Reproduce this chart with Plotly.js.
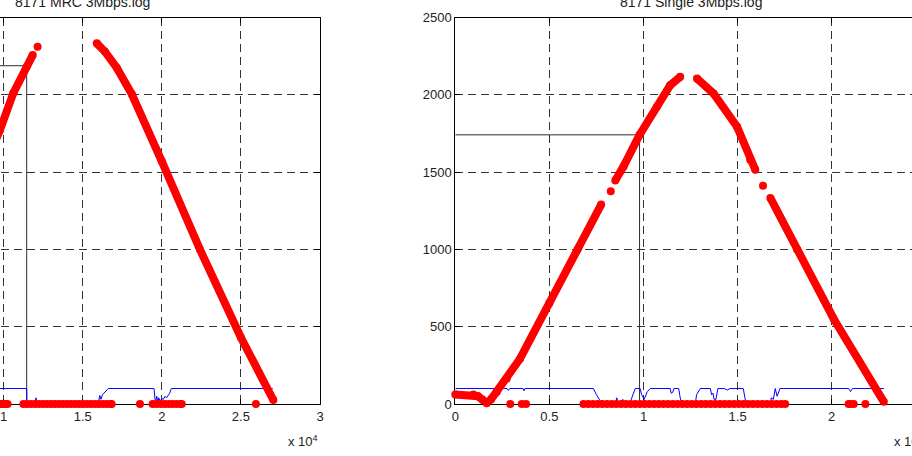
<!DOCTYPE html>
<html><head><meta charset="utf-8">
<script src="https://cdn.plot.ly/plotly-3.0.1.min.js"></script>
<style>
html,body{margin:0;padding:0;overflow:hidden;background:#fff;width:912px;height:456px}
#chart{position:absolute;left:-200px;top:0;width:1150px;height:456px}
</style>
</head><body><div id="chart"></div>
<script>
// ---------- tick labels ----------
const mrcXTickVals = [0, 5000, 10000, 15000, 20000, 25000, 30000];
const mrcXTickText = ['0', '0.5', '1', '1.5', '2', '2.5', '3'];
const singleXTickVals = [0, 5000, 10000, 15000, 20000, 25000];
const singleXTickText = ['0', '0.5', '1', '1.5', '2', '2.5'];
const yTickVals = [0, 500, 1000, 1500, 2000, 2500];
const yTickText = ['0', '500', '1000', '1500', '2000', '2500'];
const titles = ['8171 MRC 3Mbps.log', '8171 Single 3Mbps.log'];

// ---------- left panel: 8171 MRC 3Mbps.log ----------
const mrcRiseX = [9000, 9770, 10610, 11460, 11840];
const mrcRiseY = [1585, 1772, 2010, 2182, 2257];
const mrcFallX = [15890, 16400, 17150, 18100, 20000, 22410, 25000, 27050];
const mrcFallY = [2333, 2280, 2175, 2005, 1570, 1000, 430, 26];
const mrcDotX = [12150, 9770, 9870, 9990, 10120, 10250,
  11250, 11500, 11750, 12000, 12250, 12500, 12750, 13000, 13250, 13500, 13750, 14000,
  14250, 14500, 14750, 15000, 15250, 15500, 15750, 16000, 16250, 16500, 16750, 16830,
  18620, 19420, 19670, 19920, 20170, 20420, 20670, 20920, 21170, 21260, 25950];
const mrcDotY = [2311, 0, 0, 0, 0, 0,
  0, 0, 0, 0, 0, 0, 0, 0, 0, 0, 0, 0,
  0, 0, 0, 0, 0, 0, 0, 0, 0, 0, 0, 0,
  0, 0, 0, 0, 0, 0, 0, 0, 0, 0, 0];
const mrcBlueX = [9000, 11460, 11470, 11980, 12050, 12110, 15980, 16020, 16080, 16150, 16250, 16620,
  19510, 19600, 19680, 19750, 19800, 19900, 20000, 20100, 20200, 20300, 20500, 20600, 21150, 27010];
const mrcBlueY = [100, 100, 0, 0, 40, 0, 0, 40, 55, 30, 60, 100,
  100, 0, 50, 10, 40, 20, 35, 30, 50, 40, 70, 100, 100, 100];
const mrcMarkX = [0, 11460, 11460];
const mrcMarkY = [2188, 2188, 0];

// ---------- right panel: 8171 Single 3Mbps.log ----------
const singleRiseAX = [0, 960, 1200, 1450, 1670, 1900, 2200, 2730, 3440, 5000, 6500, 7750];
const singleRiseAY = [61, 61, 50, 28, 5, 30, 78, 164, 293, 654, 1001, 1290];
const singleRiseBX = [8500, 8940, 9790, 10710, 11420, 11950];
const singleRiseBY = [1445, 1537, 1741, 1923, 2062, 2116];
const singleFallAX = [12840, 13720, 14970, 15670, 15940];
const singleFallAY = [2105, 2009, 1794, 1580, 1515];
const singleFallBX = [16740, 18160, 20110, 22770];
const singleFallBY = [1333, 1000, 550, 14];
const singleDotX = [8260, 16350, 2920, 3530, 3760,
  6810, 7060, 7310, 7560, 7810, 8060, 8310, 8560, 8810, 9060, 9310, 9560, 9810, 10060,
  10310, 10560, 10810, 11060, 11310, 11560, 11810, 12060, 12310, 12560, 12810, 13060,
  13310, 13560, 13810, 14060, 14310, 14560, 14810, 15060, 15310, 15560, 15810, 16060,
  16310, 16560, 16810, 17060, 17310, 17530, 20900, 21000, 21170, 21790];
const singleDotY = [1376, 1412, 0, 0, 0,
  0, 0, 0, 0, 0, 0, 0, 0, 0, 0, 0, 0, 0, 0,
  0, 0, 0, 0, 0, 0, 0, 0, 0, 0, 0, 0,
  0, 0, 0, 0, 0, 0, 0, 0, 0, 0, 0, 0,
  0, 0, 0, 0, 0, 0, 0, 0, 0, 0];
const singleBlueX = [0, 2750, 2820, 2890, 3600, 3650, 3700, 7340, 7500, 7700, 7870, 8500, 8580, 8650,
  8850, 8900, 8950, 9250, 9380, 9560, 9820, 9900, 10040, 10200, 10360, 11420, 11470, 11550, 11620,
  11870, 11950, 12040, 12750, 12820, 13020, 13550, 13620, 13690, 13750, 13850, 13950, 14300, 14450,
  14600, 15300, 15400, 15450, 15600, 15620, 15700, 16740, 16790, 16900, 17000, 17100, 17250, 17360,
  20900, 21000, 21100, 22770];
const singleBlueY = [100, 100, 88, 100, 100, 85, 100, 100, 60, 20, 0, 0, 40, 0,
  0, 30, 0, 0, 40, 100, 100, 60, 30, 80, 100, 100, 70, 75, 100,
  100, 40, 0, 0, 60, 100, 100, 60, 70, 30, 30, 100, 100, 90,
  100, 100, 40, 0, 0, 20, 0, 0, 40, 30, 100, 50, 100, 100,
  100, 80, 100, 100];
const singleMarkX = [0, 9790, 9790];
const singleMarkY = [1741, 1741, 0];

// ---------- build traces ----------
function joinSegs(segs) {
  const out = [];
  segs.forEach((s, i) => { if (i) out.push(null); out.push(...s); });
  return out;
}
const RED = '#ff0000', BLUE = '#0000ff', MARK = '#2a2a2a';
function panelTraces(xa, ya, markX, markY, blueX, blueY, segX, segY, dotX, dotY) {
  return [
    {x: markX, y: markY, xaxis: xa, yaxis: ya, type: 'scatter', mode: 'lines',
     line: {color: MARK, width: 1}, hoverinfo: 'skip'},
    {x: blueX, y: blueY, xaxis: xa, yaxis: ya, type: 'scatter', mode: 'lines',
     line: {color: BLUE, width: 1}, hoverinfo: 'skip'},
    {x: joinSegs(segX), y: joinSegs(segY), xaxis: xa, yaxis: ya, type: 'scatter',
     mode: 'lines+markers', connectgaps: false, cliponaxis: false,
     line: {color: RED, width: 8}, marker: {color: RED, size: 8}, hoverinfo: 'skip'},
    {x: dotX, y: dotY, xaxis: xa, yaxis: ya, type: 'scatter', mode: 'markers',
     cliponaxis: false, marker: {color: RED, size: 8}, hoverinfo: 'skip'}
  ];
}
const data = [
  ...panelTraces('x', 'y', mrcMarkX, mrcMarkY, mrcBlueX, mrcBlueY,
    [mrcRiseX, mrcFallX], [mrcRiseY, mrcFallY], mrcDotX, mrcDotY),
  ...panelTraces('x2', 'y2', singleMarkX, singleMarkY, singleBlueX, singleBlueY,
    [singleRiseAX, singleRiseBX, singleFallAX, singleFallBX],
    [singleRiseAY, singleRiseBY, singleFallAY, singleFallBY], singleDotX, singleDotY)
];

const FONT = 'Arial, "Liberation Sans", Helvetica, sans-serif';
function xAxis(vals, text, range, domain, anchor) {
  return {range, domain, anchor, tickmode: 'array', tickvals: vals, ticktext: text,
    showgrid: true, gridcolor: '#333', gridwidth: 1, griddash: '8px,5px',
    zeroline: false, showline: true, linecolor: '#000', linewidth: 1, mirror: 'ticks',
    ticks: 'inside', ticklen: 5, tickcolor: '#000', layer: 'below traces',
    tickfont: {family: FONT, size: 13, color: '#222'}, fixedrange: true};
}
function yAxis(domain, anchor) {
  return {range: [0, 2500], domain, anchor, tickmode: 'array', tickvals: yTickVals, ticktext: yTickText,
    showgrid: true, gridcolor: '#333', gridwidth: 1, griddash: '8px,5px',
    zeroline: false, showline: true, linecolor: '#000', linewidth: 1, mirror: 'ticks',
    ticks: 'inside', ticklen: 5, tickcolor: '#000', layer: 'below traces',
    tickfont: {family: FONT, size: 13, color: '#222'}, fixedrange: true};
}
const yDom = [0.11404, 0.96162];
const layout = {
  width: 1150, height: 456, showlegend: false,
  margin: {l: 0, r: 0, t: 0, b: 0},
  paper_bgcolor: '#fff', plot_bgcolor: '#fff',
  xaxis: xAxis(mrcXTickVals, mrcXTickText, [0, 30000], [0.03948, 0.45217], 'y'),
  yaxis: yAxis(yDom, 'x'),
  xaxis2: xAxis(singleXTickVals, singleXTickText, [0, 25000], [0.56983, 0.97896], 'y2'),
  yaxis2: yAxis(yDom, 'x2'),
  annotations: [
    {text: titles[0], xref: 'x domain', yref: 'y domain', x: 0.5, y: 1, yanchor: 'middle',
     yshift: 16, showarrow: false, font: {family: FONT, size: 14, color: '#222'}},
    {text: titles[1], xref: 'x2 domain', yref: 'y2 domain', x: 0.5, y: 1, yanchor: 'middle',
     yshift: 16, showarrow: false, font: {family: FONT, size: 14, color: '#222'}},
    {text: 'x 10<sup>4</sup>', xref: 'x domain', yref: 'y domain', x: 1, y: 0, xanchor: 'right',
     yanchor: 'middle', yshift: -37, showarrow: false, font: {family: FONT, size: 13, color: '#222'}},
    {text: 'x 10<sup>4</sup>', xref: 'x2 domain', yref: 'y2 domain', x: 1, y: 0, xanchor: 'right',
     yanchor: 'middle', yshift: -37, showarrow: false, font: {family: FONT, size: 13, color: '#222'}}
  ]
};
Plotly.newPlot('chart', data, layout, {displayModeBar: false, staticPlot: true});
</script></body></html>
